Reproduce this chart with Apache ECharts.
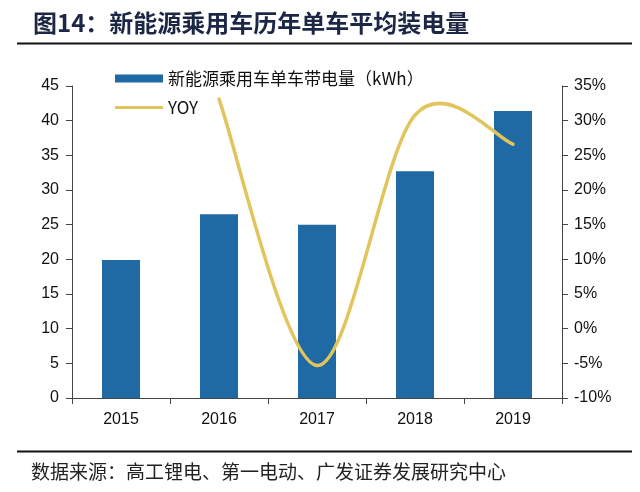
<!DOCTYPE html>
<html>
<head>
<meta charset="utf-8">
<script src="https://cdn.jsdelivr.net/npm/echarts@6/dist/echarts.min.js"></script>
<style>
	html, body { margin: 0; padding: 0; background: #fff; }
	#main { width: 640px; height: 492px; }
</style>
</head>
<body>
<div id="main"></div>
<script>
// 数据
var years = ['2015', '2016', '2017', '2018', '2019'];
var batteryKwh = [19.9, 26.5, 25.0, 32.7, 41.4];        // 单车带电量 kWh
var yoyPct = [null, 33.1, -5.3, 30.8, 26.6];            // 同比 %
var barName = '新能源乘用车单车带电量（kWh）';
var lineName = 'YOY';
var lineColor = '#e2c45c';

var chart = echarts.init(document.getElementById('main'));

// 类似Excel的平滑曲线（Catmull-Rom），点位由坐标轴换算
function renderYoy(params, api) {
	if (params.dataIndex !== yoyPct.length - 1) return null;
	var pts = [];
	for (var i = 0; i < yoyPct.length; i++) {
		if (yoyPct[i] == null) continue;
		pts.push(api.coord([i, yoyPct[i]]));
	}
	var children = [];
	for (var k = 0; k < pts.length - 1; k++) {
		var p0 = pts[Math.max(k - 1, 0)];
		var p1 = pts[k];
		var p2 = pts[k + 1];
		var p3 = pts[Math.min(k + 2, pts.length - 1)];
		children.push({
			type: 'bezierCurve',
			shape: {
				x1: p1[0], y1: p1[1],
				x2: p2[0], y2: p2[1],
				cpx1: p1[0] + (p2[0] - p0[0]) / 6,
				cpy1: p1[1] + (p2[1] - p0[1]) / 6,
				cpx2: p2[0] - (p3[0] - p1[0]) / 6,
				cpy2: p2[1] - (p3[1] - p1[1]) / 6
			},
			style: { stroke: lineColor, lineWidth: 3.5, fill: null, lineCap: 'round' }
		});
	}
	return { type: 'group', children: children };
}

var option = {
	backgroundColor: '#fff',
	animation: false,
	textStyle: {
		fontFamily: 'Liberation Sans, Arial, sans-serif'
	},
	graphic: [{
			type: 'text',
			left: 33,
			top: 11,
			style: {
				text: '图14：新能源乘用车历年单车平均装电量',
				font: 'bold 24px "Noto Sans CJK SC"',
				fill: '#1b2745'
			}
		},
		{
			type: 'line',
			shape: { x1: 17, y1: 43.5, x2: 632, y2: 43.5 },
			style: { stroke: '#111', lineWidth: 2 }
		},
		{
			type: 'line',
			shape: { x1: 17, y1: 451.5, x2: 632, y2: 451.5 },
			style: { stroke: '#111', lineWidth: 2 }
		},
		{
			type: 'text',
			left: 31,
			top: 462,
			style: {
				text: '数据来源：高工锂电、第一电动、广发证券发展研究中心',
				font: '19px "Noto Sans CJK SC"',
				fill: '#222'
			}
		}
	],
	legend: {
		orient: 'vertical',
		left: 110,
		top: 65,
		itemGap: 12,
		itemWidth: 48,
		itemHeight: 23,
		symbolKeepAspect: true,
		textStyle: {
			fontSize: 17,
			color: '#111',
			fontFamily: '"Noto Sans CJK SC", Liberation Sans, sans-serif'
		},
		data: [{
			name: barName,
			icon: 'path://M0,0L48,0L48,8L0,8Z'
		}, {
			name: lineName,
			icon: 'path://M0,0L48,0L48,3L0,3Z'
		}]
	},
	grid: {
		left: 72,
		right: 78,
		top: 86,
		bottom: 94
	},
	xAxis: {
		type: 'category',
		data: years,
		axisLine: { lineStyle: { color: '#444', width: 1 } },
		axisTick: { show: true, length: 6, lineStyle: { color: '#444' } },
		axisLabel: { color: '#111', fontSize: 16, margin: 14 }
	},
	yAxis: [{
			type: 'value',
			min: 0,
			max: 45,
			interval: 5,
			splitLine: { show: false },
			axisLine: { show: true, lineStyle: { color: '#444' } },
			axisTick: { show: true, length: 6, lineStyle: { color: '#444' } },
			axisLabel: { color: '#111', fontSize: 16, margin: 13 }
		},
		{
			type: 'value',
			min: -10,
			max: 35,
			interval: 5,
			splitLine: { show: false },
			axisLine: { show: true, lineStyle: { color: '#444' } },
			axisTick: { show: true, length: 6, lineStyle: { color: '#444' } },
			axisLabel: { color: '#111', fontSize: 16, margin: 12, formatter: '{value}%' }
		}
	],
	series: [{
			name: barName,
			type: 'bar',
			data: batteryKwh,
			barWidth: 38,
			itemStyle: { color: '#1f69a4' }
		},
		{
			name: lineName,
			type: 'custom',
			yAxisIndex: 1,
			renderItem: renderYoy,
			encode: { x: 0, y: 1 },
			data: yoyPct.map(function(v, i) { return [i, v == null ? '-' : v]; }),
			itemStyle: { color: lineColor },
			z: 3
		}
	]
};

chart.setOption(option);
</script>
</body>
</html>
